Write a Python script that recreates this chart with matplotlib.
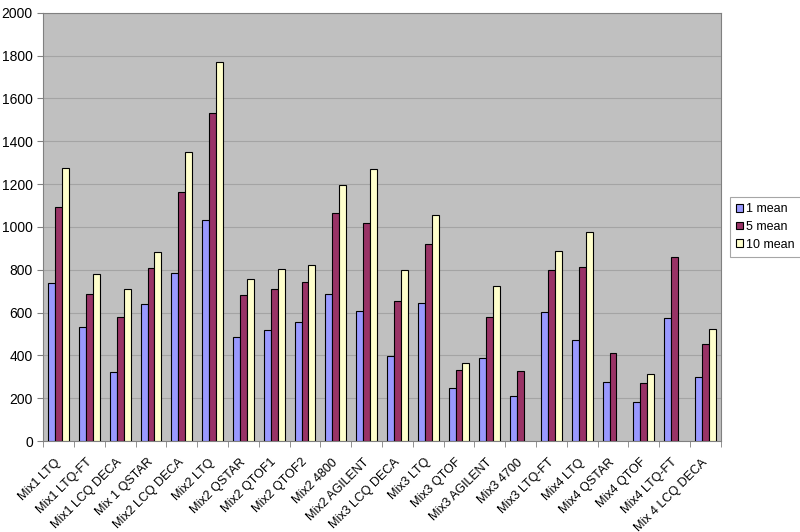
import numpy as np
import matplotlib
matplotlib.use("Agg")
import matplotlib.pyplot as plt
import matplotlib.transforms as mtransforms

plt.rcParams['font.family'] = ['Liberation Sans', 'DejaVu Sans']

categories = ["Mix1 LTQ", "Mix1 LTQ-FT", "Mix1 LCQ DECA", "Mix 1 QSTAR", "Mix2 LCQ DECA",
              "Mix2 LTQ", "Mix2 QSTAR", "Mix2 QTOF1", "Mix2 QTOF2", "Mix2 4800",
              "Mix2 AGILENT", "Mix3 LCQ DECA", "Mix3 LTQ", "Mix3 QTOF", "Mix3 AGILENT",
              "Mix3 4700", "Mix3 LTQ-FT", "Mix4 LTQ", "Mix4 QSTAR", "Mix4 QTOF",
              "Mix4 LTQ-FT", "Mix 4 LCQ DECA"]
mean1 = [738, 531, 322, 641, 783, 1033, 484, 520, 556, 688, 605, 395, 646, 249, 389,
         209, 604, 470, 277, 182, 574, 300]
mean5 = [1093, 686, 580, 809, 1164, 1532, 680, 710, 741, 1066, 1019, 654, 922, 331, 579,
         325, 800, 811, 412, 269, 861, 453]
mean10 = [1276, 780, 711, 881, 1351, 1771, 755, 802, 820, 1197, 1269, 797, 1055, 363, 724,
          np.nan, 889, 976, np.nan, 313, np.nan, 524]
series = ["1 mean", "5 mean", "10 mean"]
colors = ["#9999FF", "#993366", "#FFFFCC"]

fig = plt.figure(figsize=(8, 5.32), dpi=100)
ax = fig.add_axes([0.054, 0.171, 0.847, 0.805])
ax.set_facecolor("#C0C0C0")

x = np.arange(len(categories))
w = 0.227
for i, (vals, c, lab) in enumerate(zip([mean1, mean5, mean10], colors, series)):
    ax.bar(x + (i - 1) * w, vals, w, color=c, edgecolor="black", linewidth=0.8, label=lab, zorder=3)

ax.set_xlim(-0.5, len(categories) - 0.5)
ax.set_ylim(0, 2000)
ax.set_yticks(np.arange(0, 2001, 200))
ax.yaxis.grid(True, color="#A4A4A4", linewidth=0.8, zorder=0)
ax.set_axisbelow(True)

ax.set_xticks(x)
ax.set_xticklabels(categories, rotation=45, ha="right", va="top", rotation_mode="anchor", fontsize=9)
ax.tick_params(axis="x", length=0, pad=11)
shift = mtransforms.ScaledTranslation(-4 / 100, 0, fig.dpi_scale_trans)
for lbl in ax.get_xticklabels():
    lbl.set_transform(lbl.get_transform() + shift)
ax.set_xticks(np.arange(-0.5, len(categories), 1), minor=True)
ax.tick_params(axis="x", which="minor", length=4, color="#808080")
ax.tick_params(axis="y", labelsize=10, length=4, color="#808080")

for s in ax.spines.values():
    s.set_color("#808080")
    s.set_linewidth(0.8)

leg = ax.legend(loc="center left", bbox_to_anchor=(1.013, 0.5), fontsize=9, frameon=True,
                fancybox=False, edgecolor="#909090", handlelength=0.6, handleheight=0.6,
                handletextpad=0.25, borderpad=0.5, labelspacing=0.45, borderaxespad=0)
leg.get_frame().set_linewidth(0.8)

fig.savefig("out.png", dpi=100)
